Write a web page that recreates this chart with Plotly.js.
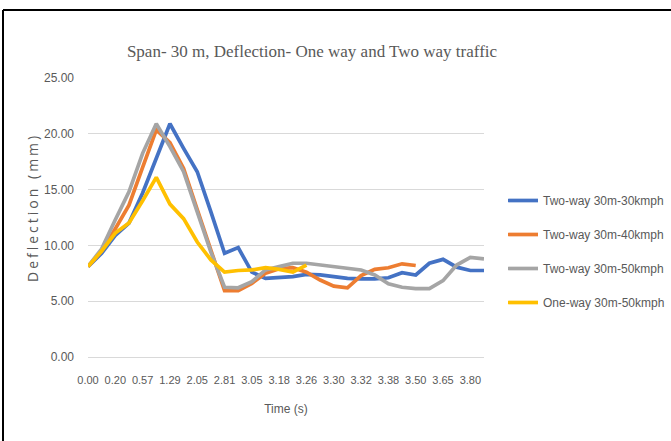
<!DOCTYPE html>
<html>
<head>
<meta charset="utf-8">
<script src="https://cdn.plot.ly/plotly-3.0.1.min.js"></script>
<style>
  html, body { margin: 0; padding: 0; background: #ffffff; }
  #chart { width: 671px; height: 441px; }
  .annotation-text { letter-spacing: 3px; }
</style>
</head>
<body>
<div id="chart"></div>
<script>
// Time categories (every other one is labelled on the axis)
const timeCategories = ['0.00','0.10','0.20','0.38','0.57','0.93','1.29','1.67','2.05','2.43',
                        '2.81','2.93','3.05','3.12','3.18','3.22','3.26','3.28','3.30','3.31',
                        '3.32','3.35','3.38','3.44','3.50','3.58','3.65','3.73','3.80','3.90'];
const tickLabels = ['0.00','0.20','0.57','1.29','2.05','2.81','3.05','3.18','3.26','3.30','3.32','3.38','3.50','3.65','3.80'];

const seriesNames = ['Two-way 30m-30kmph','Two-way 30m-40kmph','Two-way 30m-50kmph','One-way 30m-50kmph'];

const twoWay30 = [8.1, 9.3, 10.9, 12.0, 14.7, 17.7, 20.9, 18.7, 16.6, 13.0,
                  9.3, 9.8, 7.6, 7.05, 7.1, 7.2, 7.4, 7.35, 7.2, 7.05,
                  7.0, 7.0, 7.1, 7.55, 7.35, 8.4, 8.75, 8.05, 7.75, 7.75];
const twoWay40 = [8.1, 9.5, 11.5, 13.6, 17.0, 20.35, 19.2, 16.9, 13.2, 9.6,
                  5.95, 5.95, 6.6, 7.5, 7.9, 8.0, 7.6, 6.9, 6.35, 6.2,
                  7.3, 7.85, 8.0, 8.35, 8.2];
const twoWay50 = [8.1, 9.7, 12.3, 14.8, 18.25, 20.9, 18.85, 16.6, 13.0, 9.4,
                  6.25, 6.2, 6.75, 7.8, 8.1, 8.4, 8.4, 8.25, 8.1, 7.95,
                  7.8, 7.35, 6.55, 6.25, 6.12, 6.12, 6.84, 8.24, 8.93, 8.8];
const oneWay50 = [8.1, 9.5, 11.1, 12.0, 14.0, 16.1, 13.7, 12.4, 10.3, 8.7,
                  7.6, 7.75, 7.8, 8.0, 7.85, 7.6, 8.24];

const colors = ['#4472C4', '#ED7D31', '#A5A5A5', '#FFC000'];
const allSeries = [twoWay30, twoWay40, twoWay50, oneWay50];

const sans = '"Liberation Sans", Arial, sans-serif';
const grey = '#595959';

const traces = allSeries.map((vals, k) => ({
  type: 'scatter',
  mode: 'lines',
  name: seriesNames[k],
  legendgroup: 'g' + k,
  x: timeCategories.slice(0, vals.length),
  y: vals,
  line: { color: colors[k], width: 3.7 },
  hoverinfo: 'skip'
}));

const layout = {
  width: 671,
  height: 441,
  paper_bgcolor: '#ffffff',
  plot_bgcolor: '#ffffff',
  margin: { l: 88, r: 187, t: 78, b: 84, autoexpand: false },
  title: {
    text: 'Span- 30 m, Deflection- One way and Two way traffic',
    font: { family: '"Liberation Serif", "Times New Roman", serif', size: 17, color: grey },
    xref: 'container', yref: 'container',
    x: 0.465, xanchor: 'center',
    y: 0.884, yanchor: 'middle'
  },
  xaxis: {
    type: 'category',
    categoryorder: 'array',
    categoryarray: timeCategories,
    tickmode: 'array',
    tickvals: tickLabels,
    ticktext: tickLabels,
    tickangle: 0,
    showgrid: false,
    showline: true,
    linecolor: '#d9d9d9',
    linewidth: 1,
    ticks: '',
    ticklabelstandoff: 13,
    tickfont: { family: sans, size: 11, color: grey },
    title: { text: 'Time (s)', font: { family: sans, size: 12, color: grey }, standoff: 19 },
    zeroline: false
  },
  yaxis: {
    range: [0, 25],
    tickmode: 'linear',
    tick0: 0,
    dtick: 5,
    tickformat: '.2f',
    showgrid: true,
    gridcolor: '#d9d9d9',
    gridwidth: 1,
    zeroline: false,
    showline: false,
    ticks: '',
    ticklabelstandoff: 13,
    tickfont: { family: sans, size: 12, color: grey }
  },
  annotations: [
    { text: 'Deflection (mm)', xref: 'paper', yref: 'paper',
      x: (32 - 88) / 396, y: (357 - 208) / 279, xanchor: 'center', yanchor: 'middle',
      textangle: -90, showarrow: false,
      font: { family: '"Open Sans", sans-serif', size: 14, color: grey } }
  ],
  legend: {
    x: (503 - 88) / 396,
    xanchor: 'left',
    y: (357 - 186) / 279,
    yanchor: 'top',
    font: { family: sans, size: 12, color: grey },
    tracegroupgap: 15,
    bgcolor: 'rgba(0,0,0,0)'
  },
  shapes: [
    { type: 'line', xref: 'paper', yref: 'paper',
      x0: (3 - 88) / 396, x1: (671 - 88) / 396, y0: (357 - 10) / 279, y1: (357 - 10) / 279,
      line: { color: '#000000', width: 2 } },
    { type: 'line', xref: 'paper', yref: 'paper',
      x0: (3 - 88) / 396, x1: (3 - 88) / 396, y0: (357 - 10) / 279, y1: (357 - 445) / 279,
      line: { color: '#000000', width: 2 } }
  ],
  showlegend: true,
  hovermode: false
};

Plotly.newPlot('chart', traces, layout, { staticPlot: true, displayModeBar: false });
</script>
</body>
</html>
